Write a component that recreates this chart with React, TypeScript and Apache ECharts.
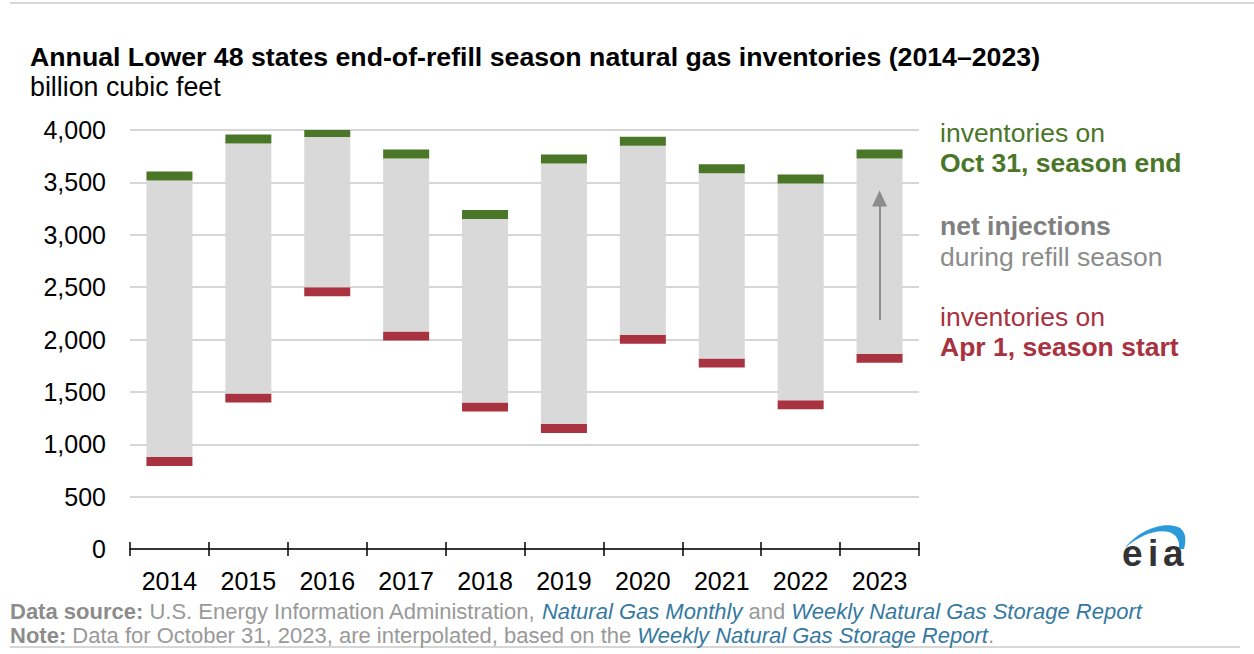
import React, { useEffect, useRef } from "react";
import * as echarts from "echarts";

const years = ["2014", "2015", "2016", "2017", "2018", "2019", "2020", "2021", "2022", "2023"];
// inventories on Apr 1 (season start), Bcf
const apr1 = [836, 1442, 2457, 2033, 1355, 1150, 2003, 1776, 1377, 1820];
// inventories on Oct 31 (season end), Bcf
const oct31 = [3560, 3914, 3976, 3772, 3194, 3723, 3893, 3631, 3533, 3772];
const yTicks = { min: 0, max: 4000, interval: 500 };
// arrow in the 2023 bar (from, to) in Bcf
const arrowYear = "2023";
const arrowFrom = 2185;
const arrowTo = 3345;
const markerBand = 86;

const FONT = "'Liberation Sans', Arial, Helvetica, sans-serif";
const GREEN = "#4a7628";
const RED = "#a8323f";
const GRAY = "#d9d9d9";

export default function App() {
  const ref = useRef<HTMLDivElement>(null);
  useEffect(() => {
    if (!ref.current) return;
    echarts.graphic.registerShape(
      "eiaSwoosh",
      echarts.graphic.extendPath(
        "M 0 24 C 12 8, 36 -3, 53 3 C 60 6, 62 14, 59 25 L 54 25 C 55 16, 51 10, 44 8 C 30 5, 14 12, 0 24 Z",
        {}
      )
    );
    const chart = echarts.init(ref.current, null, { renderer: "svg" });
    const half = markerBand / 2;
    const base = apr1.map((v) => v - half);
    const red = apr1.map(() => markerBand);
    const gray = apr1.map((v, i) => oct31[i] - v - markerBand);
    const green = apr1.map(() => markerBand);
    const barCommon = { type: "bar", stack: "s", barWidth: 46, xAxisIndex: 0, yAxisIndex: 0 };
    const footRich = {
      b: { fontSize: 22, fontWeight: "bold", fontFamily: FONT, fill: "#8c8c8c", color: "#8c8c8c" },
      n: { fontSize: 22, fontFamily: FONT, fill: "#999999", color: "#999999" },
      l: { fontSize: 22, fontStyle: "italic", fontFamily: FONT, fill: "#3579a0", color: "#3579a0" },
    };
    chart.setOption({
      animation: false,
      grid: { left: 130, right: 335, top: 130, bottom: 105 },
      xAxis: [
        {
          type: "category",
          data: years,
          position: "bottom",
          axisLine: { show: true, lineStyle: { color: "#000", width: 1.5 } },
          axisTick: { show: true, length: 7, lineStyle: { color: "#000", width: 1.5 } },
          axisLabel: { color: "#000", fontSize: 25, fontFamily: FONT, margin: 19 },
          splitLine: { show: false },
        },
        {
          type: "category",
          data: years,
          position: "bottom",
          axisLine: { show: false },
          axisTick: { show: true, inside: true, length: 7, lineStyle: { color: "#000", width: 1.5 } },
          axisLabel: { show: false },
          splitLine: { show: false },
        },
      ],
      yAxis: {
        type: "value",
        min: yTicks.min,
        max: yTicks.max,
        interval: yTicks.interval,
        axisLine: { show: false },
        axisTick: { show: false },
        axisLabel: {
          color: "#000",
          fontSize: 25,
          fontFamily: FONT,
          margin: 24,
          formatter: (v: number) => v.toLocaleString("en-US"),
        },
        splitLine: { show: true, lineStyle: { color: "#d6d6d6", width: 2 } },
      },
      series: [
        {
          ...barCommon,
          name: "base",
          data: base,
          itemStyle: { color: "transparent" },
          silent: true,
        },
        { ...barCommon, name: "Apr 1", data: red, itemStyle: { color: RED } },
        {
          ...barCommon,
          name: "net injections",
          data: gray,
          itemStyle: { color: GRAY },
        },
        { ...barCommon, name: "Oct 31", data: green, itemStyle: { color: GREEN } },
        {
          type: "line",
          data: [],
          xAxisIndex: 0,
          yAxisIndex: 0,
          markLine: {
            silent: true,
            symbol: ["none", "triangle"],
            symbolSize: [15, 16],
            label: { show: false },
            lineStyle: { color: "#8c8c8c", width: 2, type: "solid" },
            data: [[{ coord: [arrowYear, arrowFrom] }, { coord: [arrowYear, arrowTo] }]],
          },
        },
      ],
      graphic: [
        { type: "rect", shape: { x: 10, y: 2, width: 1244, height: 2 }, style: { fill: "#d6d6d6" }, silent: true },
        { type: "rect", shape: { x: 10, y: 646, width: 1230, height: 2 }, style: { fill: "#d6d6d6" }, silent: true },
        {
          type: "text",
          x: 30,
          y: 57,
          style: {
            text: "Annual Lower 48 states end-of-refill season natural gas inventories (2014\u20132023)",
            fontSize: 26.7,
            fontWeight: "bold",
            fontFamily: FONT,
            fill: "#000",
            verticalAlign: "middle",
          },
        },
        {
          type: "text",
          x: 30,
          y: 87,
          style: { text: "billion cubic feet", fontSize: 26.8, fontFamily: FONT, fill: "#000", verticalAlign: "middle" },
        },
        // legend labels
        { type: "text", x: 940, y: 133, style: { text: "inventories on", fontSize: 26.5, fontFamily: FONT, fill: GREEN, verticalAlign: "middle" } },
        { type: "text", x: 940, y: 163, style: { text: "Oct 31, season end", fontSize: 26.5, fontWeight: "bold", fontFamily: FONT, fill: GREEN, verticalAlign: "middle" } },
        { type: "text", x: 940, y: 226, style: { text: "net injections", fontSize: 26.5, fontWeight: "bold", fontFamily: FONT, fill: "#808080", verticalAlign: "middle" } },
        { type: "text", x: 940, y: 257, style: { text: "during refill season", fontSize: 26.5, fontFamily: FONT, fill: "#8c8c8c", verticalAlign: "middle" } },
        { type: "text", x: 940, y: 317, style: { text: "inventories on", fontSize: 26.5, fontFamily: FONT, fill: RED, verticalAlign: "middle" } },
        { type: "text", x: 940, y: 347, style: { text: "Apr 1, season start", fontSize: 26.5, fontWeight: "bold", fontFamily: FONT, fill: RED, verticalAlign: "middle" } },
        // footer
        {
          type: "text",
          x: 10,
          y: 611,
          style: {
            text: "{b|Data source: }{n|U.S. Energy Information Administration, }{l|Natural Gas Monthly}{n| and }{l|Weekly Natural Gas Storage Report}",
            verticalAlign: "middle",
            rich: footRich,
          },
        },
        {
          type: "text",
          x: 10,
          y: 635,
          style: {
            text: "{b|Note: }{n|Data for October 31, 2023, are interpolated, based on the }{l|Weekly Natural Gas Storage Report}{n|.}",
            verticalAlign: "middle",
            rich: footRich,
          },
        },
        // eia logo
        { type: "eiaSwoosh", x: 1125, y: 524, style: { fill: "#2b9ad8" }, silent: true },
        { type: "text", x: 1122, y: 553, style: { text: "e", fontSize: 37, fontWeight: "bold", fontFamily: FONT, fill: "#333", verticalAlign: "middle" } },
        { type: "text", x: 1148, y: 553, style: { text: "i", fontSize: 37, fontWeight: "bold", fontFamily: FONT, fill: "#333", verticalAlign: "middle" } },
        { type: "text", x: 1163, y: 553, style: { text: "a", fontSize: 37, fontWeight: "bold", fontFamily: FONT, fill: "#333", verticalAlign: "middle" } },
      ],
    });
    return () => chart.dispose();
  }, []);
  return <div ref={ref} style={{ position: "absolute", left: 0, top: 0, width: 1254, height: 654 }} />;
}
